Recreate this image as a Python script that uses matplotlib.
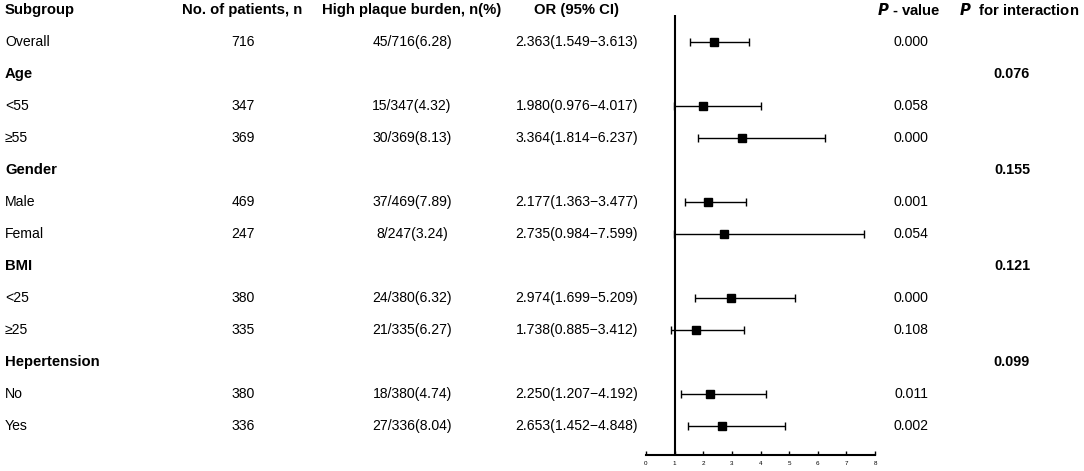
import matplotlib
matplotlib.use('Agg')
import matplotlib.pyplot as plt
from matplotlib.transforms import blended_transform_factory

plt.rcParams['font.family'] = ['Liberation Sans', 'DejaVu Sans']

# rows: (label, is_group)
labels = ['Overall', 'Age', '<55', '≥55', 'Gender', 'Male', 'Femal',
          'BMI', '<25', '≥25', 'Hepertension', 'No', 'Yes']
is_group = [False, True, False, False, True, False, False,
            True, False, False, True, False, False]
patients = ['716', '', '347', '369', '', '469', '247', '', '380', '335', '', '380', '336']
burden = ['45/716(6.28)', '', '15/347(4.32)', '30/369(8.13)', '', '37/469(7.89)',
          '8/247(3.24)', '', '24/380(6.32)', '21/335(6.27)', '', '18/380(4.74)',
          '27/336(8.04)']
or_est = [2.363, None, 1.980, 3.364, None, 2.177, 2.735, None, 2.974, 1.738, None, 2.250, 2.653]
ci_low = [1.549, None, 0.976, 1.814, None, 1.363, 0.984, None, 1.699, 0.885, None, 1.207, 1.452]
ci_high = [3.613, None, 4.017, 6.237, None, 3.477, 7.599, None, 5.209, 3.412, None, 4.192, 4.848]
p_values = ['0.000', '', '0.058', '0.000', '', '0.001', '0.054', '', '0.000', '0.108', '', '0.011', '0.002']
p_inter = ['', '0.076', '', '', '0.155', '', '', '0.121', '', '', '0.099', '', '']
xticks = [0, 1, 2, 3, 4, 5, 6, 7, 8]

W, H = 1084, 471
fig = plt.figure(figsize=(W / 100, H / 100), dpi=100)

row0, step = 10, 32.0
ax_left, ax_right, ax_bottom = 646, 875, 455
ax = fig.add_axes([ax_left / W, 1 - ax_bottom / H, (ax_right - ax_left) / W, ax_bottom / H])
ax.set_xlim(0, 8)
ymax = (ax_bottom - row0) / step
ax.set_ylim(ymax, -row0 / step)

for s in ['top', 'right', 'left']:
    ax.spines[s].set_visible(False)
ax.spines['bottom'].set_linewidth(1.5)
ax.set_yticks([])
ax.set_xticks(xticks)
ax.tick_params(axis='x', direction='in', length=3, width=1, labelsize=4.5, pad=4)

ax.vlines(1, (15 - row0) / step, ymax, color='black', lw=1.5)

for i, lab in enumerate(labels):
    y = i + 1
    if or_est[i] is not None:
        ax.errorbar(or_est[i], y,
                    xerr=[[or_est[i] - ci_low[i]], [ci_high[i] - or_est[i]]],
                    fmt='s', color='black', ms=5.2, elinewidth=1.0,
                    capsize=2.7, capthick=1.0, clip_on=False)

tr = blended_transform_factory(fig.transFigure, ax.transData)

def txt(xpx, y, s, ha='center', **kw):
    ax.text(xpx / W, y, s, transform=tr, ha=ha, va='center', clip_on=False, **kw)

hs = 10.7
fs = 10.1
txt(5, 0, 'Subgroup', ha='left', fontsize=hs, fontweight='bold')
txt(242, 0, 'No. of patients, n', fontsize=hs, fontweight='bold')
txt(412, 0, 'High plaque burden, n(%)', fontsize=hs, fontweight='bold')
txt(576, 0, 'OR (95% CI)', fontsize=hs, fontweight='bold')
txt(909, 0, r'$\bfit{P}$' + ' - value', fontsize=hs, fontweight='bold')
txt(1019, 0, r'$\bfit{P}$' + '  for interaction', fontsize=hs, fontweight='bold')

for i, lab in enumerate(labels):
    y = i + 1
    if is_group[i]:
        txt(5, y, lab, ha='left', fontsize=10.7, fontweight='bold')
        txt(1012, y, p_inter[i], fontsize=10.4, fontweight='bold')
    else:
        txt(5, y, lab, ha='left', fontsize=fs)
        txt(243, y, patients[i], fontsize=fs)
        txt(412, y, burden[i], fontsize=fs)
        txt(577, y, '%.3f(%.3f\u2212%.3f)' % (or_est[i], ci_low[i], ci_high[i]), fontsize=fs)
        txt(911, y, p_values[i], fontsize=fs)

fig.savefig('out.png', dpi=100)
